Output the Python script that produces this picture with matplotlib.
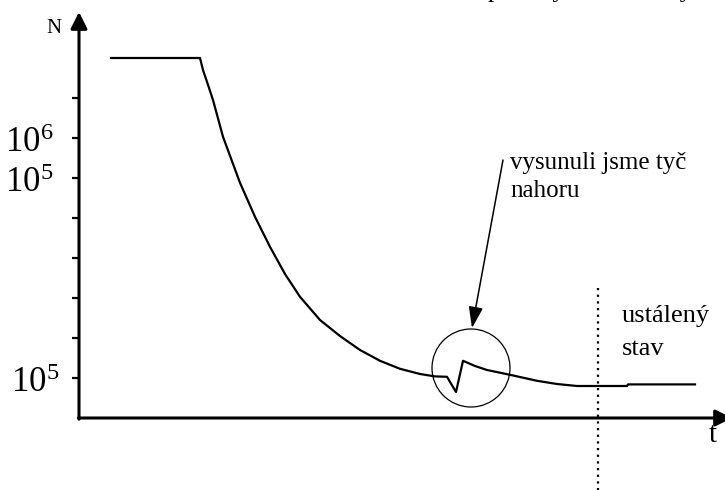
import matplotlib
matplotlib.use('Agg')
import matplotlib.pyplot as plt
from matplotlib.patches import Ellipse

plt.rcParams['font.family'] = ['Liberation Serif', 'DejaVu Serif']
plt.rcParams['mathtext.fontset'] = 'custom'
plt.rcParams['mathtext.rm'] = 'Liberation Serif'

# neutron count over time (schematic units: one y step = one tick)
t = [3.2, 12.1, 12.4, 12.9, 13.4, 14.4, 16.1, 17.6, 19.1, 20.6, 22.1, 24.1,
     26.1, 28.1, 30.1, 32.1, 34.1, 35.6, 36.8, 37.7, 38.4, 39.6, 40.8, 43.1,
     45.8, 47.8, 49.8, 54.8, 54.9, 61.6]
N = [9.0, 9.0, 8.7, 8.33, 7.95, 7.03, 5.88, 5.03, 4.28, 3.6, 3.03, 2.45,
     2.05, 1.7, 1.43, 1.23, 1.1, 1.04, 1.03, 0.65, 1.43, 1.3, 1.2, 1.08,
     0.93, 0.85, 0.8, 0.8, 0.84, 0.84]

yticks = [1, 2, 3, 4, 5, 6, 7, 8]
ylabel_pos = [7, 6, 1]
ylabel_txt = [r'$\mathregular{10^6}$', r'$\mathregular{10^5}$', r'$\mathregular{10^5}$']
ylabel_x = [-2.6, -2.6, -2.0]

t_steady = 51.9          # start of the steady state
t_rod = 39.2             # rod pulled out
N_rod = 1.25

fig = plt.figure(figsize=(7.25, 4.9), dpi=100)
ax = fig.add_axes([0, 0, 1, 1])
ax.set_xlim(-7.9, 64.6)
ax.set_ylim(-1.8, 10.45)
ax.axis('off')

# axes with arrow heads
ax.annotate('', xy=(0, 10.15), xytext=(0, -0.03),
            arrowprops=dict(arrowstyle='-|>,head_length=0.5,head_width=0.25',
                            lw=2.2, color='black', mutation_scale=20,
                            shrinkA=0, shrinkB=0))
ax.annotate('', xy=(65.3, 0.0), xytext=(-0.05, 0.0),
            arrowprops=dict(arrowstyle='-|>,head_length=0.5,head_width=0.25',
                            lw=2.2, color='black', mutation_scale=20,
                            shrinkA=0, shrinkB=0), annotation_clip=False)

for k in yticks:
    ax.plot([-0.7, 0], [k, k], color='black', lw=1.6, solid_capstyle='butt')

for pos, txt, x in zip(ylabel_pos, ylabel_txt, ylabel_x):
    ax.text(x, pos - 0.36, txt, fontsize=25, ha='right', va='baseline')

ax.text(-2.55, 9.625, 'N', fontsize=15, ha='center', va='baseline')
ax.text(63.4, -0.6, 't', fontsize=21, ha='center', va='baseline')

ax.plot(t, N, color='black', lw=1.6)

# steady state boundary
ax.plot([t_steady, t_steady], [3.25, -1.8], color='black', lw=1.6,
        linestyle=(0, (1, 2)))
ax.text(54.3, 1.575, 'ustálený\nstav', fontsize=19, ha='left', va='baseline',
        linespacing=1.65)

# rod event
ax.add_patch(Ellipse((t_rod, N_rod), 7.8, 1.95, fill=False, lw=0.9,
                     color='black'))
ax.annotate('', xy=(39.3, 2.25), xytext=(42.4, 6.45),
            arrowprops=dict(arrowstyle='-|>,head_length=0.65,head_width=0.22',
                            lw=1.1, color='black', mutation_scale=20,
                            shrinkA=0, shrinkB=0))
ax.text(43.1, 5.525, 'vysunuli jsme tyč\nnahoru', fontsize=18, ha='left',
        va='baseline', linespacing=1.35)

ax.text(40.9, 10.53, 'pomalý růst hustoty', fontsize=18.5, ha='left',
        va='baseline', clip_on=False)

fig.savefig('out.png', dpi=100)
